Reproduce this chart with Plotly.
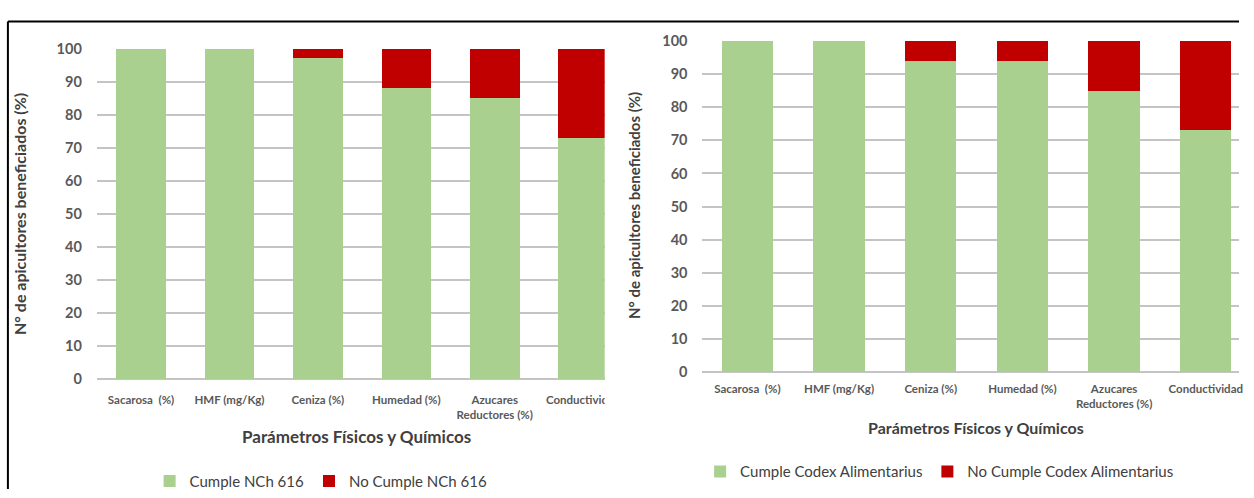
import plotly.graph_objects as go

# Parameters evaluated on each honey sample
categories = ["Sacarosa  (%)", "HMF (mg/Kg)", "Ceniza (%)", "Humedad (%)",
              "Azucares<br>Reductores (%)", "Conductividad"]

# Share of beekeepers complying with the Chilean standard NCh 616 (%)
cumple_nch = [100, 100, 97, 88, 85, 73]
no_cumple_nch = [0, 0, 3, 12, 15, 27]

# Share of beekeepers complying with Codex Alimentarius (%)
cumple_codex = [100, 100, 94, 94, 85, 73]
no_cumple_codex = [0, 0, 6, 6, 15, 27]

y_ticks = [0, 10, 20, 30, 40, 50, 60, 70, 80, 90, 100]

W, H = 1254, 498
GREEN = "#A9D08E"
RED = "#C00000"
GRID = "#C4C4C4"
TXT = "#595959"
DARK = "#404040"
FONT = "Lato"


def px(x):
    return x / W


def py(y):
    return 1 - y / H


idx = list(range(len(categories)))

fig = go.Figure()
fig.add_trace(go.Bar(x=idx, y=cumple_nch, name="Cumple NCh 616", marker_color=GREEN,
                     marker_line_width=0, xaxis="x", yaxis="y", legend="legend"))
fig.add_trace(go.Bar(x=idx, y=no_cumple_nch, name="No Cumple NCh 616", marker_color=RED,
                     marker_line_width=0, xaxis="x", yaxis="y", legend="legend"))
fig.add_trace(go.Bar(x=idx, y=cumple_codex, name="Cumple Codex Alimentarius", marker_color=GREEN,
                     marker_line_width=0, xaxis="x2", yaxis="y2", legend="legend2"))
fig.add_trace(go.Bar(x=idx, y=no_cumple_codex, name="No Cumple Codex Alimentarius", marker_color=RED,
                     marker_line_width=0, xaxis="x2", yaxis="y2", legend="legend2"))

xcommon = dict(tickmode="array", tickvals=idx, ticktext=categories, showgrid=False,
               zeroline=False, showline=False, ticks="",
               tickfont=dict(family=FONT, size=11.5, color=TXT, weight="bold"),
               fixedrange=True)
ycommon = dict(range=[0, 100], tickvals=y_ticks, showgrid=True, gridcolor=GRID, gridwidth=1.6,
               zeroline=True, zerolinecolor=GRID, zerolinewidth=1.6, showline=False, ticks="",
               tickfont=dict(family=FONT, size=14.5, color=TXT, weight="bold"),
               fixedrange=True)

# left panel plot area: 98..612 px, 89.5 px per category
left_range = [-0.5, -0.5 + (612 - 98) / 89.5]
# right panel plot area: 710..1254 px, 92.8 px per category
right_range = [-0.5, -0.5 + (1254 - 710) / 92.8]

legend_font = dict(family=FONT, size=15, color=DARK)

fig.update_layout(
    width=W, height=H, margin=dict(l=0, r=0, t=0, b=0),
    paper_bgcolor="white", plot_bgcolor="white",
    barmode="stack", bargap=0.44,
    xaxis=dict(domain=[px(98), px(612)], range=left_range, anchor="y",
               ticklabelstandoff=12, **xcommon),
    yaxis=dict(domain=[py(384), py(41)], anchor="x", ticklabelstandoff=14, **ycommon),
    xaxis2=dict(domain=[px(710), 1.0], range=right_range, anchor="y2",
                ticklabelstandoff=8, **xcommon),
    yaxis2=dict(domain=[py(377), py(33)], anchor="x2", ticklabelstandoff=13, **ycommon),
    legend=dict(orientation="h", x=px(325), y=py(490), xanchor="center", yanchor="middle",
                font=legend_font, bgcolor="rgba(0,0,0,0)", traceorder="normal",
                itemwidth=30, tracegroupgap=0),
    legend2=dict(orientation="h", x=px(951), y=py(480), xanchor="center", yanchor="middle",
                 font=legend_font, bgcolor="rgba(0,0,0,0)", traceorder="normal",
                 itemwidth=30, tracegroupgap=0),
    showlegend=True,
)

ytitle = "N° de apicultores beneficiados (%)"
xtitle = "Parámetros Físicos y Químicos"

fig.add_annotation(text=ytitle, textangle=-90, x=px(20), y=py(213), xref="paper", yref="paper",
                   showarrow=False, font=dict(family=FONT, size=16, color=DARK, weight="bold"),
                   xanchor="center", yanchor="middle")
fig.add_annotation(text=ytitle, textangle=-90, x=px(641), y=py(204), xref="paper", yref="paper",
                   showarrow=False, font=dict(family=FONT, size=15, color=DARK, weight="bold"),
                   xanchor="center", yanchor="middle")
fig.add_annotation(text=xtitle, x=px(361), y=py(444), xref="paper", yref="paper",
                   showarrow=False, font=dict(family=FONT, size=17, color=DARK, weight="bold"),
                   xanchor="center", yanchor="middle")
fig.add_annotation(text=xtitle, x=px(988), y=py(434), xref="paper", yref="paper",
                   showarrow=False, font=dict(family=FONT, size=16, color=DARK, weight="bold"),
                   xanchor="center", yanchor="middle")

# mask the overflow of the last left-panel category label
fig.add_shape(type="rect", xref="paper", yref="paper", layer="above",
              x0=px(612), x1=px(668), y0=py(420), y1=py(388),
              fillcolor="white", line_width=0)

# outer frame (top and left edges)
fig.add_shape(type="line", xref="paper", yref="paper", layer="above",
              x0=px(8), x1=1.0, y0=py(13), y1=py(13), line=dict(color="black", width=2))
fig.add_shape(type="line", xref="paper", yref="paper", layer="above",
              x0=px(8), x1=px(8), y0=py(13), y1=0, line=dict(color="black", width=2))

fig.write_html("out.html")
